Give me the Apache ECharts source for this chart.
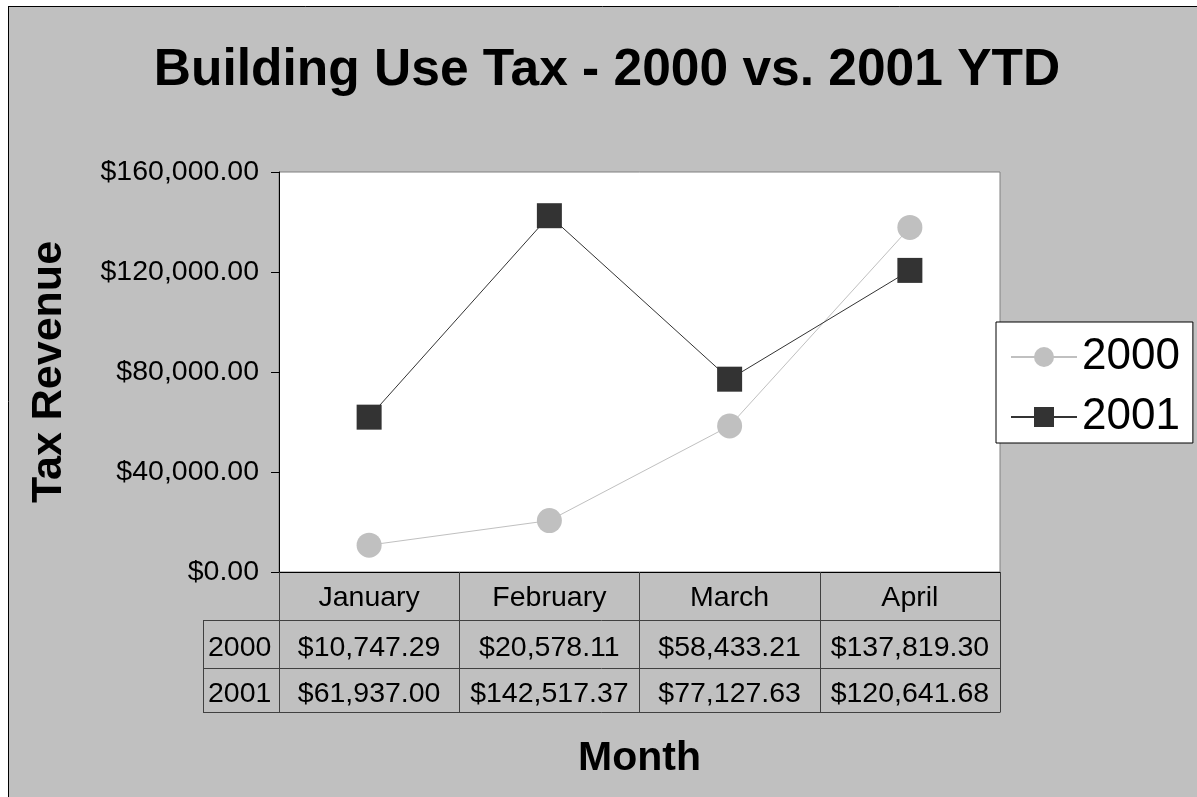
<!DOCTYPE html>
<html>
<head>
<meta charset="utf-8">
<script src="https://cdn.jsdelivr.net/npm/echarts@6/dist/echarts.min.js"></script>
<style>
html,body{margin:0;padding:0;background:#fff;}
#c{width:1197px;height:797px;}
</style>
</head>
<body>
<div id="c"></div>
<script>
const months = ['January', 'February', 'March', 'April'];
const seriesNames = ['2000', '2001'];
const values2000 = [10747.29, 20578.11, 58433.21, 137819.30];
const values2001 = [61937.00, 142517.37, 77127.63, 120641.68];
const yTicks = [0, 40000, 80000, 120000, 160000];

const FONT = "'Liberation Sans', Arial, sans-serif";
const GL = 279, GT = 172, GW = 721, GH = 400;
const TABLE_LEFT = 203;
const ROW1 = 620, ROW2 = 668, ROW3 = 712;
const LINE_C = '#404040';
const TFS = 28.5;

function money(v) {
  return '$' + v.toLocaleString('en-US', {minimumFractionDigits: 2, maximumFractionDigits: 2});
}

const chart = echarts.init(document.getElementById('c'), null, {renderer: 'canvas'});

const option = {
  backgroundColor: '#c0c0c0',
  animation: false,
  textStyle: {fontFamily: FONT},
  title: {
    text: 'Building Use Tax - 2000 vs. 2001 YTD',
    left: 602, top: 40, textAlign: 'center',
    textStyle: {fontFamily: FONT, fontSize: 51.5, fontWeight: 'bold', color: '#000'}
  },
  grid: {
    left: GL, top: GT, width: GW, height: GH,
    show: true, backgroundColor: '#fff', borderColor: '#808080', borderWidth: 1
  },
  legend: {
    orient: 'vertical',
    left: 996, top: 322,
    backgroundColor: '#fff', borderColor: '#000', borderWidth: 1,
    padding: [13, 13, 4, 14],
    itemGap: 16, itemWidth: 66, itemHeight: 25,
    textStyle: {fontFamily: FONT, fontSize: 44, color: '#000', padding: [0, 0, 0, 0]},
    data: seriesNames
  },
  xAxis: [
    {
      type: 'category', data: months, position: 'bottom', boundaryGap: true,
      name: 'Month', nameLocation: 'middle', nameGap: 166,
      nameTextStyle: {fontFamily: FONT, fontSize: 41, fontWeight: 'bold', color: '#000'},
      axisLine: {show: true, lineStyle: {color: '#000', width: 1}},
      axisTick: {show: true, interval: 0, length: ROW3 - GT - GH, lineStyle: {color: LINE_C, width: 1}},
      axisLabel: {interval: 0, margin: 12, fontSize: TFS, color: '#000', fontFamily: FONT},
      splitLine: {show: false}
    },
    {
      type: 'category', data: months, position: 'bottom', offset: ROW1 - GT - GH,
      axisLine: {show: false}, axisTick: {show: false}, splitLine: {show: false},
      axisLabel: {interval: 0, margin: 14, fontSize: TFS, color: '#000', fontFamily: FONT,
        formatter: (v, i) => money(values2000[i])}
    },
    {
      type: 'category', data: months, position: 'bottom', offset: ROW2 - GT - GH,
      axisLine: {show: false}, axisTick: {show: false}, splitLine: {show: false},
      axisLabel: {interval: 0, margin: 12, fontSize: TFS, color: '#000', fontFamily: FONT,
        formatter: (v, i) => money(values2001[i])}
    }
  ],
  yAxis: {
    type: 'value', min: yTicks[0], max: yTicks[yTicks.length - 1], interval: yTicks[1] - yTicks[0],
    name: 'Tax Revenue', nameLocation: 'middle', nameRotate: 90, nameGap: 208,
    nameTextStyle: {fontFamily: FONT, fontSize: 43, fontWeight: 'bold', color: '#000'},
    axisLine: {show: true, lineStyle: {color: '#000', width: 1}},
    axisTick: {show: true, length: 8, lineStyle: {color: '#000'}},
    axisLabel: {margin: 20, fontSize: 28.5, color: '#000', fontFamily: FONT, formatter: v => money(v)},
    splitLine: {show: false}
  },
  series: [
    {
      name: seriesNames[0], type: 'line', data: values2000,
      symbol: 'circle', symbolSize: 25,
      itemStyle: {color: '#c0c0c0'},
      lineStyle: {color: '#c0c0c0', width: 1}
    },
    {
      name: seriesNames[1], type: 'line', data: values2001,
      symbol: 'rect', symbolSize: 25,
      itemStyle: {color: '#333333'},
      lineStyle: {color: '#333333', width: 1}
    }
  ],
  graphic: [
    {type: 'rect', shape: {x: 0, y: 0, width: 1197, height: 6}, style: {fill: '#fff'}, silent: true},
    {type: 'rect', shape: {x: 0, y: 0, width: 8, height: 797}, style: {fill: '#fff'}, silent: true},
    {type: 'line', shape: {x1: 8, y1: 6.5, x2: 1197, y2: 6.5}, style: {stroke: '#000', lineWidth: 1}, silent: true},
    {type: 'line', shape: {x1: 8.5, y1: 6, x2: 8.5, y2: 797}, style: {stroke: '#000', lineWidth: 1}, silent: true},
    {type: 'line', shape: {x1: TABLE_LEFT, y1: ROW1 + 0.5, x2: GL + GW, y2: ROW1 + 0.5}, style: {stroke: LINE_C, lineWidth: 1}, silent: true},
    {type: 'line', shape: {x1: TABLE_LEFT, y1: ROW2 + 0.5, x2: GL + GW, y2: ROW2 + 0.5}, style: {stroke: LINE_C, lineWidth: 1}, silent: true},
    {type: 'line', shape: {x1: TABLE_LEFT, y1: ROW3 + 0.5, x2: GL + GW + 0.5, y2: ROW3 + 0.5}, style: {stroke: LINE_C, lineWidth: 1}, silent: true},
    {type: 'line', shape: {x1: TABLE_LEFT + 0.5, y1: ROW1, x2: TABLE_LEFT + 0.5, y2: ROW3 + 0.5}, style: {stroke: LINE_C, lineWidth: 1}, silent: true},
    {type: 'text', left: TABLE_LEFT + 5, top: 648 - TFS / 2,
      style: {text: seriesNames[0], font: TFS + 'px ' + FONT, fill: '#000'}, silent: true},
    {type: 'text', left: TABLE_LEFT + 5, top: 694 - TFS / 2,
      style: {text: seriesNames[1], font: TFS + 'px ' + FONT, fill: '#000'}, silent: true}
  ]
};
chart.setOption(option);
</script>
</body>
</html>
